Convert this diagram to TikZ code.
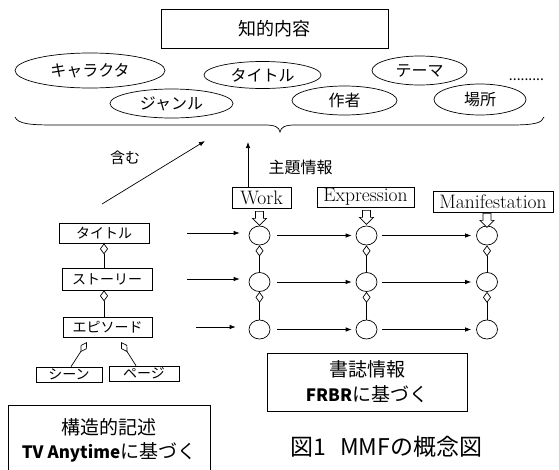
\documentclass[tikz,border=0pt]{standalone}
\usepackage{fontspec}
\newfontfamily\jp{Noto Sans CJK JP}
\usetikzlibrary{shapes.geometric,arrows.meta}
\newcommand\myfs[2]{\fontsize{#1}{#2}\selectfont}
\begin{document}
\begin{tikzpicture}[x=1pt,y=-1pt,
  box/.style={draw, line width=0.7pt, inner sep=0pt},
  ell/.style={draw, ellipse, line width=0.7pt, inner sep=0pt, font=\jp\myfs{16}{18}},
  arr/.style={-{Latex[length=6pt,width=4.5pt]}, line width=0.7pt},
  agg/.style={{Diamond[open,length=11pt,width=8pt]}-, line width=0.7pt},
  circ/.style={draw, ellipse, line width=0.7pt, minimum width=21pt, minimum height=19pt, inner sep=0pt},
  lbl/.style={font=\jp\myfs{14}{16}},
  frbr/.style={font=\myfs{19.5}{21}},
  hollow/.pic={\draw[line width=0.7pt, fill=white] (-4,0) -- (4,0) -- (4,7) -- (7,7) -- (0,14) -- (-7,7) -- (-4,7) -- cycle;}
]
\useasboundingbox (0,0) rectangle (559,469);
\fill[white] (0,0) rectangle (559,469);
\clip (0,0) rectangle (559,469);

% top
\node[box, minimum width=227pt, minimum height=39pt, font=\jp\myfs{18}{20}] (ci) at (274.5,28.5) {知的内容};
\node[ell, minimum width=150pt, minimum height=35pt] (e1) at (90,70.5) {キャラクタ};
\node[ell, minimum width=117pt, minimum height=27pt] (e2) at (262.5,75) {タイトル};
\node[ell, minimum width=95pt, minimum height=29pt] (e3) at (419.5,70.5) {テーマ};
\node[ell, minimum width=123pt, minimum height=29pt] (e4) at (171.5,103.5) {ジャンル};
\node[ell, minimum width=105pt, minimum height=29pt] (e5) at (344.5,100.5) {作者};
\node[ell, minimum width=92pt, minimum height=31pt] (e6) at (480,99.5) {場所};
\node[font=\jp\myfs{14}{16}, inner sep=0pt] (dots) at (526.5,80) {.........};

% brace
\draw[line width=0.7pt] (15,117) .. controls (18,124) and (30,125) .. (55,125) -- (265,125)
  .. controls (275,125) and (279,127) .. (280,132) .. controls (281,127) and (285,125) .. (295,125)
  -- (510,125) .. controls (535,125) and (542,123) .. (544,117);

% arrows to brace
\coordinate (inA) at (102,204);
\coordinate (inB) at (205,141);
\draw[arr] (inA) -- (inB);
\node[font=\jp\myfs{15}{17}] (fukumu) at (125,158) {含む};

% FRBR boxes
\node[box, minimum width=59pt, minimum height=21pt, frbr] (w) at (261.5,197.5) {Work};
\node[box, minimum width=97pt, minimum height=20pt, frbr] (ex) at (365.5,197) {Expression};
\node[box, minimum width=120pt, minimum height=21pt, frbr] (mf) at (493,201.5) {Manifestation};

\coordinate (subj) at (248,142);
\draw[arr] (w.north -| subj) -- (subj);
\node[font=\jp\myfs{16}{18}] (shudai) at (300.5,167) {主題情報};

% circles
\foreach \c/\x in {1/259.5,2/366.5,3/487}{
  \node[circ] (c1\c) at (\x,235.5) {};
  \node[circ] (c2\c) at (\x,282) {};
  \node[circ] (c3\c) at (\x,329.5) {};
  \draw[agg] (c1\c.south) -- (c2\c.north);
  \draw[agg] (c2\c.south) -- (c3\c.north);
}
\path (c11 |- w.south) ++(0,3) pic {hollow};
\path (c12 |- ex.south) ++(0,3) pic {hollow};
\path (c13 |- mf.south) ++(0,1) pic {hollow};

\foreach \r in {1,2,3}{
  \draw[arr, shorten <=7pt, shorten >=4pt] (c\r1) -- (c\r2);
  \draw[arr, shorten <=5pt, shorten >=5pt] (c\r2) -- (c\r3);
}

% structure boxes
\node[box, minimum width=90pt, minimum height=20pt, lbl] (t) at (104,233) {タイトル};
\node[box, minimum width=90pt, minimum height=22pt, lbl] (s) at (107,279) {ストーリー};
\node[box, minimum width=89pt, minimum height=20pt, lbl] (ep) at (107.5,327) {エピソード};
\draw[agg] (t.south) -- (t.south |- s.north);
\draw[agg] (t.south |- s.south) -- (t.south |- ep.north);

\draw[arr, shorten <=38pt, shorten >=9pt] (t.east) -- (t.east -| c11.west);
\draw[arr, shorten <=35pt, shorten >=9pt] (s.east) -- (s.east -| c21.west);
\draw[arr, shorten <=44pt, shorten >=13pt] (ep.east) -- (ep.east -| c31.west);

\node[box, minimum width=66pt, minimum height=15pt, lbl] (sc) at (69,374.5) {シーン};
\node[box, minimum width=70pt, minimum height=15pt, lbl] (pg) at (144,373.5) {ページ};
\coordinate (d1) at (87,342);
\coordinate (d2) at (121,342);
\draw[{Diamond[open,length=12pt,width=7pt]}-, line width=0.7pt] (d1) -- ([xshift=2pt]sc.north);
\draw[{Diamond[open,length=12pt,width=7pt]}-, line width=0.7pt] (d2) -- ([xshift=-8pt]pg.north);

% bottom boxes
\node[box, minimum width=202pt, minimum height=70pt, anchor=north, align=center, font=\jp\myfs{19}{24}] (kz) at (109,405)
  {構造的記述\\{\bfseries\myfs{17}{24}TV Anytime}に基づく};
\node[box, minimum width=200pt, minimum height=58pt, align=center, font=\jp\myfs{19}{25}] (sy) at (367,382)
  {書誌情報\\{\bfseries\myfs{17}{25}FRBR}に基づく};
\node[font=\jp\myfs{23}{25}] (cap) at (386.5,447) {図1\hspace{0.6em}MMFの概念図};
\end{tikzpicture}
\end{document}
